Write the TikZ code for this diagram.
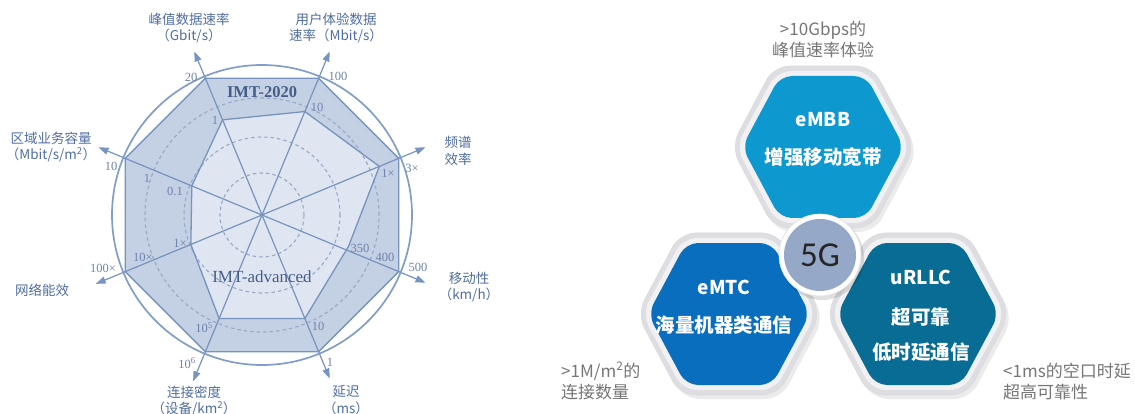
\documentclass[tikz,border=0pt]{standalone}
\usepackage{fontspec}
\setmainfont{Liberation Serif}
\newfontfamily\cjk{Noto Sans CJK SC}
\newfontfamily\latc{Carlito}
\usetikzlibrary{arrows.meta,calc}
\definecolor{bandc}{RGB}{196,208,227}
\definecolor{innerc}{RGB}{223,230,241}
\definecolor{linec}{RGB}{118,148,190}
\definecolor{dashc}{RGB}{150,168,198}
\definecolor{ringc}{RGB}{128,158,200}
\definecolor{labc}{RGB}{80,110,160}
\definecolor{numc}{RGB}{110,130,172}
\definecolor{embbc}{RGB}{14,152,208}
\definecolor{emtcc}{RGB}{10,110,190}
\definecolor{urllcc}{RGB}{8,108,148}
\definecolor{fgc}{RGB}{150,168,200}
\definecolor{framec}{RGB}{222,222,226}
\definecolor{framei}{RGB}{241,241,243}
\definecolor{grayt}{RGB}{118,118,118}
\newcommand\hexshape[3]{(-#1,0) -- (-#2,-#3) -- (#2,-#3) -- (#1,0) -- (#2,#3) -- (-#2,#3) -- cycle}
\tikzset{
  pline/.style={draw=linec, line width=1.3pt, line join=round},
  axisline/.style={draw=linec, line width=1.2pt, -{Triangle[length=10pt,width=7pt]}},
  dashring/.style={draw=dashc, line width=1.1pt, dash pattern=on 3.5pt off 3pt},
  axlab/.style={text=labc, font=\cjk\fontsize{13.5}{16.5}\selectfont, align=center, inner sep=0pt},
  numlab/.style={text=numc, font=\fontsize{12.5}{13}\selectfont, inner sep=0pt},
  imtlab/.style={text=labc!85!black, font=\fontsize{17}{18}\selectfont, inner sep=0pt},
  hexframe/.style={fill=framec, draw=black!14, line width=0.6pt, rounded corners=16pt},
  hexinner/.style={fill=framei, rounded corners=14pt},
  hexblue/.style={rounded corners=12pt},
  shadowc/.style={fill=black, opacity=0.08, rounded corners=16pt},
  whitebold/.style={text=white, font=\cjk\bfseries\fontsize{19}{22}\selectfont, inner sep=0pt},
  whitecn/.style={text=white, font=\cjk\bfseries\fontsize{19.5}{22}\selectfont, inner sep=0pt},
  graylab/.style={text=grayt, font=\cjk\fontsize{17}{21}\selectfont, inner sep=0pt},
}
\begin{document}
\begin{tikzpicture}[x=1pt,y=-1pt]
\useasboundingbox (0,0) rectangle (1135,414);
\fill[white] (0,0) rectangle (1135,414);

% ---------------- radar chart ----------------
\begin{scope}[shift={(262,215)}, y=1pt]
  \coordinate (O) at (0,0);
  % outer octagon (IMT-2020)
  \coordinate (P1) at (112.5:148);
  \coordinate (P2) at (67.5:148);
  \coordinate (P3) at (22.5:148);
  \coordinate (P4) at (-22.5:148);
  \coordinate (P5) at (-67.5:148);
  \coordinate (P6) at (-112.5:148);
  \coordinate (P7) at (-157.5:148);
  \coordinate (P8) at (157.5:148);
  % inner polygon (IMT-advanced)
  \coordinate (Q1) at (112.5:103);
  \coordinate (Q2) at (67.5:112);
  \coordinate (Q3) at (22.5:127);
  \coordinate (Q4) at (-20:92);
  \coordinate (Q5) at (-67.5:112);
  \coordinate (Q6) at (-112.5:112);
  \coordinate (Q7) at (-157.5:77);
  \coordinate (Q8) at (157.5:76);
  % axis tips
  \coordinate (T1) at (112.5:177);
  \coordinate (T2) at (67.5:177);
  \coordinate (T3) at (22.5:177);
  \coordinate (T4) at (-22.5:177);
  \coordinate (T5) at (-67.5:177);
  \coordinate (T6) at (-112.5:180);
  \coordinate (T7) at (-157.5:180);
  \coordinate (T8) at (157.5:177);

  \fill[bandc] (P1)--(P2)--(P3)--(P4)--(P5)--(P6)--(P7)--(P8)--cycle;
  \fill[innerc] (Q1)--(Q2)--(Q3)--(Q4)--(Q5)--(Q6)--(Q7)--(Q8)--cycle;
  \draw[dashring] (O) circle[radius=42];
  \draw[dashring] (O) circle[radius=78];
  \draw[dashring] (O) circle[radius=117];
  \draw[pline] (Q1)--(Q2)--(Q3)--(Q4)--(Q5)--(Q6)--(Q7)--(Q8)--cycle;
  \draw[pline] (P1)--(P2)--(P3)--(P4)--(P5)--(P6)--(P7)--(P8)--cycle;
  \foreach \t in {T1,T2,T3,T4,T5,T6,T7,T8}{\draw[axisline] (O) -- (\t);}
  \fill[linec] (O) circle[radius=1.8];
  \draw[ringc, line width=1.7pt] (O) circle[radius=150];
\end{scope}

\node[imtlab, font=\bfseries\fontsize{16.5}{18}\selectfont] (imt2020) at (262,92) {IMT-2020};
\node[imtlab] (imtadv) at (262,277) {IMT-advanced};

% tick labels
\node[numlab] (n20) at (191,77) {20};
\node[numlab] (n1a) at (215,120) {1};
\node[numlab] (n100) at (338,76) {100};
\node[numlab] (n10a) at (317,107) {10};
\node[numlab] (n3x) at (412,168) {3×};
\node[numlab] (n1x) at (388,173) {1×};
\node[numlab] (n500) at (418,267) {500};
\node[numlab] (n400) at (385,257) {400};
\node[numlab] (n350) at (360,248) {350};
\node[numlab] (n1b) at (330,362) {1};
\node[numlab] (n10b) at (318,326) {10};
\node[numlab] (n106) at (187,363) {10\textsuperscript{6}};
\node[numlab] (n105) at (204,328) {10\textsuperscript{5}};
\node[numlab] (n100x) at (103,268) {100×};
\node[numlab] (n10x) at (143,257) {10×};
\node[numlab] (n1c) at (180,243) {1×};
\node[numlab] (n10c) at (111,166) {10};
\node[numlab] (n1d) at (147,178) {1};
\node[numlab] (n01) at (175,191) {0.1};

% axis labels
\node[axlab] (lpeak) at (189,28) {峰值数据速率\\（Gbit/s）};
\node[axlab] (luser) at (336,28) {用户体验数据\\速率（Mbit/s）};
\node[axlab] (lspec) at (458,151) {频谱\\效率};
\node[axlab] (lmob) at (469,287) {移动性\\（km/h）};
\node[axlab] (llat) at (346,400) {延迟\\（ms）};
\node[axlab] (lden) at (194,401) {连接密度\\（设备/km\textsuperscript{2}）};
\node[axlab] (lene) at (42,290) {网络能效};
\node[axlab] (larea) at (51,147) {区域业务容量\\（Mbit/s/m\textsuperscript{2}）};

% ---------------- 5G triangle ----------------
% shadows
\begin{scope}[shift={(826,151)}] \fill[shadowc] \hexshape{92}{49}{81}; \end{scope}
\begin{scope}[shift={(732,318)}] \fill[shadowc] \hexshape{92}{49}{81}; \end{scope}
\begin{scope}[shift={(921,318)}] \fill[shadowc] \hexshape{92}{49}{81}; \end{scope}
% frames
\begin{scope}[shift={(823,147)}]
  \filldraw[hexframe] \hexshape{92}{49}{81};
  \fill[hexinner] \hexshape{87}{46}{76};
  \fill[embbc, hexblue] \hexshape{81}{43}{71};
\end{scope}
\begin{scope}[shift={(729,314)}]
  \filldraw[hexframe] \hexshape{92}{49}{81};
  \fill[hexinner] \hexshape{87}{46}{76};
  \fill[emtcc, hexblue] \hexshape{81}{43}{71};
\end{scope}
\begin{scope}[shift={(918,314)}]
  \filldraw[hexframe] \hexshape{92}{49}{81};
  \fill[hexinner] \hexshape{87}{46}{76};
  \fill[urllcc, hexblue] \hexshape{81}{43}{71};
\end{scope}

\node[whitebold] (embb) at (823,120) {eMBB};
\node[whitecn] (embbcn) at (823,157) {增强移动宽带};
\node[whitebold] (emtc) at (724,287) {eMTC};
\node[whitecn] (emtccn) at (724,325) {海量机器类通信};
\node[whitebold] (urllc) at (921,277) {uRLLC};
\node[whitecn] (urllccn1) at (921,317) {超可靠};
\node[whitecn] (urllccn2) at (921,352) {低时延通信};

% center circle
\fill[black, opacity=0.12] (822,258) circle[radius=42];
\filldraw[fill=white, draw=black!12, line width=0.6pt] (820,255) circle[radius=41];
\node[circle, fill=fgc, minimum size=72pt, inner sep=0pt, text=black!85,
      font=\latc\fontsize{35}{36}\selectfont] (fiveg) at (820,255) {5G};

% gray annotations
\node[graylab, align=center] (tembb) at (823,40) {>10Gbps的\\峰值速率体验};
\node[graylab, align=left, anchor=west] (temtc) at (561,381) {>1M/m\textsuperscript{2}的\\连接数量};
\node[graylab, align=left, anchor=west] (turllc) at (1003,381) {<1ms的空口时延\\超高可靠性};
\end{tikzpicture}
\end{document}
